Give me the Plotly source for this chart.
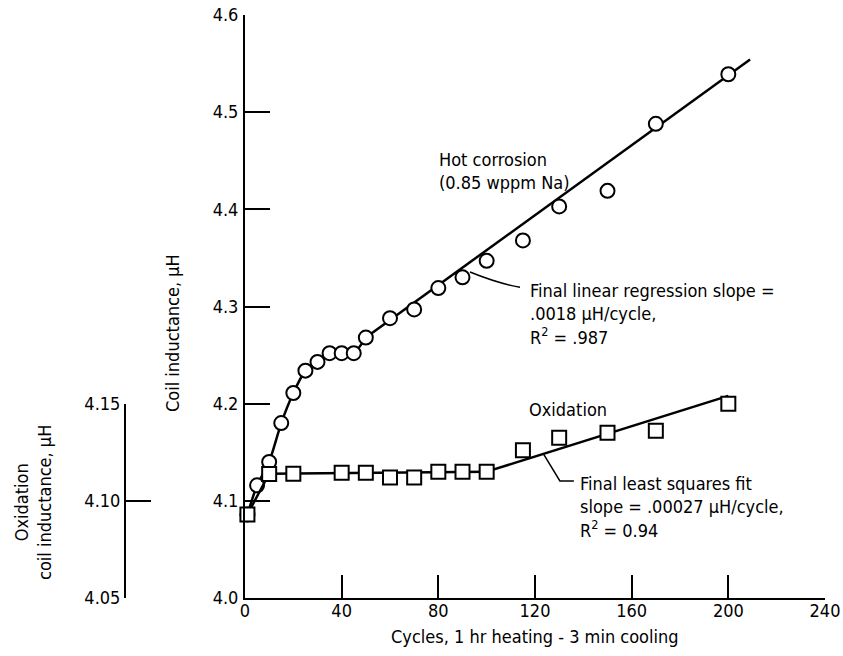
import plotly.graph_objects as go

# ---------------- data ----------------
hot_cycles = [1, 5, 10, 15, 20, 25, 30, 35, 40, 45, 50, 60, 70, 80, 90, 100, 115, 130, 150, 170, 200]
hot_inductance = [4.086, 4.116, 4.140, 4.180, 4.211, 4.234, 4.243, 4.252, 4.252, 4.252, 4.268,
                  4.288, 4.297, 4.319, 4.330, 4.347, 4.368, 4.403, 4.419, 4.488, 4.539]

ox_cycles = [1, 10, 20, 40, 50, 60, 70, 80, 90, 100, 115, 130, 150, 170, 200]
ox_inductance = [4.093, 4.1138, 4.114, 4.1145, 4.1145, 4.112, 4.112, 4.115, 4.115, 4.115,
                 4.126, 4.1325, 4.135, 4.136, 4.150]

# fitted lines (as drawn)
hot_fit_slope = 0.0018
hot_fit_intercept = 4.178
hot_fit_range = [50, 209]

ox_fit_slope = 0.00039
ox_fit_intercept = 4.076
ox_fit_range = [100, 200]

x_ticks = [0, 40, 80, 120, 160, 200, 240]
y_ticks = [4.0, 4.1, 4.2, 4.3, 4.4, 4.5, 4.6]
y_ticklabels = ["4.0", "4.1", "4.2", "4.3", "4.4", "4.5", "4.6"]
ox_ticks = [4.05, 4.10, 4.15]
ox_ticklabels = ["4.05", "4.10", "4.15"]

FONT = "Liberation Sans Narrow, DejaVu Sans Condensed, Arial Narrow, sans-serif"
FS = 18

fig = go.Figure()

# Hot corrosion: early curve through points, then regression line
early_x = [c for c in hot_cycles if c <= hot_fit_range[0]]
early_y = [v for c, v in zip(hot_cycles, hot_inductance) if c <= hot_fit_range[0]]
fig.add_trace(go.Scatter(x=early_x, y=early_y, mode="lines",
                         line=dict(color="black", width=2.5, shape="spline", smoothing=0.6),
                         showlegend=False, hoverinfo="skip"))
fig.add_trace(go.Scatter(x=hot_fit_range, y=[hot_fit_intercept + hot_fit_slope * c for c in hot_fit_range],
                         mode="lines", line=dict(color="black", width=2.5), showlegend=False, hoverinfo="skip"))

# Oxidation lines (on oxidation scale, y2)
plateau = [v for c, v in zip(ox_cycles, ox_inductance) if 10 <= c <= 100]
plateau_val = sum(plateau) / len(plateau)
fig.add_trace(go.Scatter(x=[ox_cycles[0], 10, ox_fit_range[0]],
                         y=[ox_inductance[0], plateau_val, ox_fit_intercept + ox_fit_slope * ox_fit_range[0]],
                         mode="lines", yaxis="y2", line=dict(color="black", width=2.5),
                         showlegend=False, hoverinfo="skip"))
fig.add_trace(go.Scatter(x=ox_fit_range, y=[ox_fit_intercept + ox_fit_slope * c for c in ox_fit_range],
                         mode="lines", yaxis="y2", line=dict(color="black", width=2.5),
                         showlegend=False, hoverinfo="skip"))

# markers
fig.add_trace(go.Scatter(x=hot_cycles, y=hot_inductance, mode="markers", name="Hot corrosion",
                         marker=dict(symbol="circle", size=14, color="white", line=dict(color="black", width=2)),
                         cliponaxis=False, showlegend=False))
fig.add_trace(go.Scatter(x=ox_cycles, y=ox_inductance, mode="markers", name="Oxidation", yaxis="y2",
                         marker=dict(symbol="square", size=14, color="white", line=dict(color="black", width=2)),
                         cliponaxis=False, showlegend=False))

# empty trace to show the oxidation scale axis
fig.add_trace(go.Scatter(x=[None], y=[None], yaxis="y3", showlegend=False, hoverinfo="skip"))

W, H = 843, 656
L, R, T, B = 100, 18, 15, 58
pw = W - L - R
ph = H - T - B
x0 = (245 - L) / pw

axis_common = dict(showline=True, linecolor="black", linewidth=2, ticks="inside", tickcolor="black",
                   tickwidth=2, showgrid=False, zeroline=False, automargin=False,
                   tickfont=dict(family=FONT, size=FS, color="black"))

fig.update_layout(
    width=W, height=H, margin=dict(l=L, r=R, t=T, b=B, autoexpand=False),
    paper_bgcolor="white", plot_bgcolor="rgba(0,0,0,0)",
    font=dict(family=FONT, size=FS, color="black"),
    xaxis=dict(domain=[x0, 1], range=[0, 240], tickvals=x_ticks, ticklen=23, ticklabelstandoff=-5,
               **axis_common),
    yaxis=dict(range=[4.0, 4.6], tickvals=y_ticks, ticktext=y_ticklabels, ticklen=25, ticklabelstandoff=1,
               **axis_common),
    yaxis2=dict(overlaying="y", range=[4.05, 4.35], visible=False),
    yaxis3=dict(domain=[0, 1 / 3], range=[4.05, 4.15], anchor="free", position=(125 - L) / pw,
                tickvals=ox_ticks, ticktext=ox_ticklabels, ticklen=25, **axis_common),
)

# annotations
ann = []
ann.append(dict(text="Hot corrosion<br>(0.85 wppm Na)", x=79.4, y=4.439, xref="x", yref="y",
                xanchor="left", yanchor="middle", align="left", showarrow=False))
ann.append(dict(text="Final linear regression slope =<br>.0018 µH/cycle,<br>R<sup>2</sup> = .987",
                x=117.3, y=4.2923, xref="x", yref="y", xanchor="left", yanchor="middle", align="left",
                showarrow=False))
ann.append(dict(text="Oxidation", x=116.7, y=4.1945, xref="x", yref="y", xanchor="left", yanchor="middle",
                showarrow=False))
ann.append(dict(text="Final least squares fit<br>slope = .00027 µH/cycle,<br>R<sup>2</sup> = 0.94",
                x=137.8, y=4.0937, xref="x", yref="y", xanchor="left", yanchor="middle", align="left",
                showarrow=False))
ann.append(dict(text="Cycles, 1 hr heating - 3 min cooling", x=0.5, y=-(636 - 598) / ph,
                xref="x domain", yref="paper", xanchor="center", yanchor="middle", showarrow=False))
ann.append(dict(text="Coil inductance, µH", x=(172 - L) / pw, y=(598 - 333) / ph,
                xref="paper", yref="paper", xanchor="center", yanchor="middle", textangle=-90, showarrow=False))
ann.append(dict(text="Oxidation<br>coil inductance, µH", x=(33 - L) / pw, y=(598 - 503) / ph,
                xref="paper", yref="paper", xanchor="center", yanchor="middle", textangle=-90, showarrow=False))
fig.update_layout(annotations=ann)

# leader lines
fig.add_shape(type="path", xref="x", yref="y", path="M 93.1,4.3355 Q 105,4.3235 113.8,4.3199",
              line=dict(color="black", width=1.5))
fig.add_shape(type="path", xref="x", yref="y", path="M 123.3,4.149 L 130.3,4.1204 L 136.1,4.1204",
              line=dict(color="black", width=1.5))

# remove the default 8px page margin so the figure fills the window exactly
fig.write_html("out.html", config={"displayModeBar": False},
               post_script="document.body.style.margin='0px';document.body.style.overflow='hidden';")
